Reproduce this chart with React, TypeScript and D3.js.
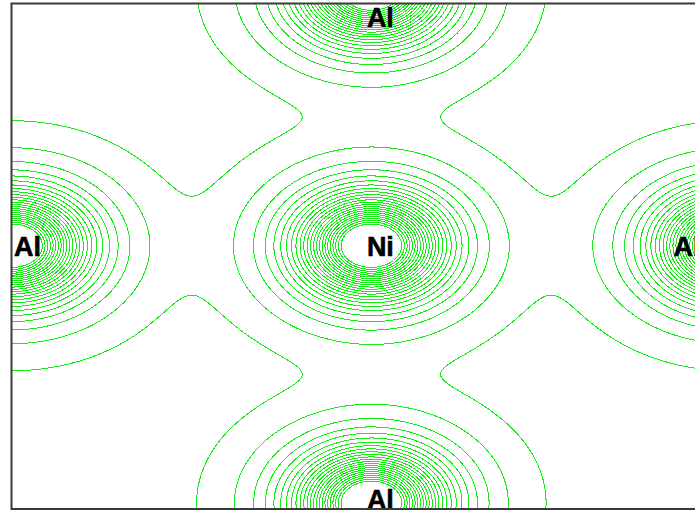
import React, { useMemo } from "react";
import * as d3 from "d3";

// Atoms of the plotted plane, in cell units (Ni at the origin)
const atomSpecies = ["Ni", "Al", "Al", "Al", "Al"];
const atomU = [0, -1, 1, 0, 0];
const atomV = [0, 0, 0, -1, 1];

// Radial density model per species: amplitude, core softening (Å), decay length (Å)
const speciesAmp: Record<string, number> = { Ni: 750, Al: 750 };
const speciesCore: Record<string, number> = { Ni: 0.428, Al: 0.428 };
const speciesDecay: Record<string, number> = { Ni: 0.132, Al: 0.132 };

// Cell lengths along the horizontal and vertical plot directions (Å)
const cellU = 2.0;
const cellV = 2.0;

// Visible window of the plane, in cell units
const uDomain = [-1, 0.92];
const vDomain = [-0.94, 1.02];

// Contour levels of the charge density
const contourLevels = [
  0.24, 1, 2, 3, 4, 5, 6, 7, 8, 9, 10, 11, 12, 13, 14, 15, 16, 17, 18, 19, 20,
  21, 22, 23,
];

const W = 695;
const H = 510;
const frame = { left: 11.5, top: 3.5, right: 712, bottom: 509 };

function density(u: number, v: number): number {
  let f = 0;
  for (let k = 0; k < atomSpecies.length; k++) {
    const s = atomSpecies[k];
    const dx = (u - atomU[k]) * cellU;
    const dy = (v - atomV[k]) * cellV;
    const r2 = dx * dx + dy * dy;
    const c = speciesCore[s];
    f += speciesAmp[s] * Math.exp(-Math.sqrt(r2 + c * c) / speciesDecay[s]);
  }
  return f;
}

export default function App() {
  const x = d3.scaleLinear().domain(uDomain).range([12, 702]);
  const y = d3.scaleLinear().domain(vDomain).range([4, 508]);

  const paths = useMemo(() => {
    // sample on a pixel grid slightly larger than the frame, then clip
    const x0 = 0;
    const y0 = -4;
    const nx = 712;
    const ny = 520;
    const values = new Float64Array(nx * ny);
    for (let j = 0; j < ny; j++) {
      const v = y.invert(y0 + j + 0.5);
      for (let i = 0; i < nx; i++) {
        const u = x.invert(x0 + i + 0.5);
        values[j * nx + i] = density(u, v);
      }
    }
    const gen = d3.contours().size([nx, ny]).thresholds(contourLevels);
    const geo = d3.geoPath(d3.geoIdentity().translate([x0, y0]));
    return gen(Array.from(values)).map((c) => ({ level: c.value, d: geo(c) || "" }));
  }, []);

  const labels = atomSpecies.map((s, k) => {
    const cx = Math.max(frame.left + 16, Math.min(frame.right - 25, x(atomU[k]) + 9));
    const by = Math.max(frame.top + 23.5, Math.min(frame.bottom, y(atomV[k]) + 10));
    return { s, cx, by, k };
  });

  return (
    <svg
      width={W}
      height={H}
      style={{ position: "absolute", left: 0, top: 0, background: "#fff" }}
    >
      <defs>
        <clipPath id="plotArea">
          <rect
            x={frame.left}
            y={frame.top}
            width={frame.right - frame.left}
            height={frame.bottom - frame.top}
          />
        </clipPath>
      </defs>
      <g clipPath="url(#plotArea)">
        {paths.map((p) => (
          <path
            key={p.level}
            d={p.d}
            fill="none"
            stroke="#14ec14"
            strokeWidth={1}
            shapeRendering="crispEdges"
          />
        ))}
        {labels.map((l) => (
          <text
            key={l.k}
            x={l.cx}
            y={l.by}
            textAnchor="middle"
            fontFamily="'Liberation Sans', Arial, sans-serif"
            fontWeight="bold"
            fontSize={27}
            fill="#000"
            stroke="#000"
            strokeWidth={0.6}
          >
            {l.s}
          </text>
        ))}
      </g>
      <rect
        x={frame.left}
        y={frame.top}
        width={frame.right - frame.left}
        height={frame.bottom - frame.top}
        fill="none"
        stroke="#3a3a3a"
        strokeWidth={2}
      />
    </svg>
  );
}
